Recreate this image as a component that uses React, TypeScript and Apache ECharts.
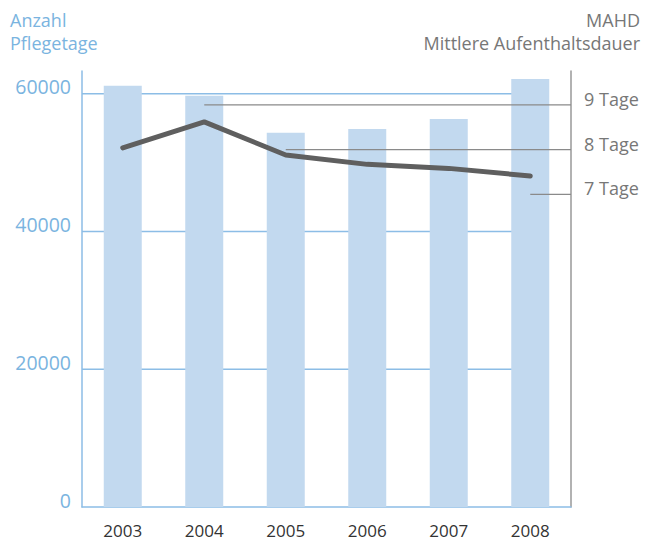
import React, { useEffect, useRef } from "react";
import * as echarts from "echarts";

const years = ["2003", "2004", "2005", "2006", "2007", "2008"];
const pflegetage = [61160, 59710, 54330, 54870, 56320, 62140];
const mahd = [8.04, 8.62, 7.88, 7.67, 7.58, 7.41];
const leftTicks = [20000, 40000, 60000];
const rightTickDays = [9, 8, 7];
const leaderFromYear = ["2004", "2005", "2008"];
const leftTitle = ["Anzahl", "Pflegetage"];
const rightTitle = ["MAHD", "Mittlere Aufenthaltsdauer"];

const BLUE_TEXT = "#7ab4e0";
const GRID_BLUE = "#8cbde6";
const BAR = "#c2d9ef";
const GRAY_TEXT = "#777777";

export default function App() {
  const ref = useRef<HTMLDivElement>(null);
  useEffect(() => {
    if (!ref.current) return;
    const chart = echarts.init(ref.current, undefined, { renderer: "svg" });
    const n = years.length;
    const gridSeries = leftTicks.map((v) => ({
      type: "line",
      xAxisIndex: 1,
      yAxisIndex: 0,
      data: [
        [0, v],
        [n - 0.5, v],
      ],
      symbol: "none",
      silent: true,
      z: 1,
      lineStyle: { color: GRID_BLUE, width: 1.5 },
    }));
    const leaderSeries = rightTickDays.map((d, i) => ({
      type: "line",
      xAxisIndex: 1,
      yAxisIndex: 1,
      data: [
        [years.indexOf(leaderFromYear[i]) + 0.5, d],
        [n, d],
      ],
      symbol: "none",
      silent: true,
      z: 3,
      lineStyle: { color: "#8a8a8a", width: 1.2 },
    }));
    const titleFont = { fontSize: 18, fontFamily: "Open Sans" };
    const graphic = [
      ...leftTitle.map((t, i) => ({
        type: "text",
        left: 10,
        top: 11 + i * 22.5,
        style: { text: t, fill: BLUE_TEXT, ...titleFont },
      })),
      ...rightTitle.map((t, i) => ({
        type: "text",
        right: 5,
        top: 11 + i * 22.5,
        style: { text: t, fill: GRAY_TEXT, ...titleFont },
      })),
    ];
    chart.setOption({
      animation: false,
      textStyle: { fontFamily: "Open Sans" },
      graphic,
      grid: { left: 82, right: 74, top: 71, bottom: 34, containLabel: false },
      xAxis: [
        {
          type: "category",
          data: years,
          boundaryGap: true,
          axisLine: { show: true, lineStyle: { color: GRID_BLUE, width: 1.5 } },
          axisTick: { show: false },
          axisLabel: {
            color: "#333333",
            fontSize: 17,
            lineHeight: 17,
            margin: 15,
            fontFamily: "Open Sans",
          },
          splitLine: { show: false },
        },
        {
          type: "value",
          min: 0,
          max: n,
          show: false,
          splitLine: { show: false },
        },
      ],
      yAxis: [
        {
          type: "value",
          min: 0,
          max: 63300,
          interval: 20000,
          position: "left",
          axisLine: { show: true, lineStyle: { color: GRID_BLUE, width: 1.5 } },
          axisTick: { show: false },
          splitLine: { show: false },
          axisLabel: {
            color: BLUE_TEXT,
            fontSize: 19.5,
            fontFamily: "Open Sans",
            margin: 11,
            verticalAlign: "bottom",
            lineHeight: 14,
            formatter: (v: number) => (v % 20000 === 0 ? String(v) : ""),
          },
        },
        {
          type: "value",
          min: 0,
          max: 9.76,
          interval: 1,
          position: "right",
          axisLine: { show: true, lineStyle: { color: "#999999", width: 1.5 } },
          axisTick: { show: false },
          splitLine: { show: false },
          axisLabel: {
            color: GRAY_TEXT,
            fontSize: 18,
            fontFamily: "Open Sans",
            margin: 13,
            verticalAlign: "bottom",
            lineHeight: 12,
            formatter: (v: number) =>
              rightTickDays.indexOf(v) >= 0 ? `${v} Tage` : "",
          },
        },
      ],
      series: [
        ...gridSeries,
        {
          type: "bar",
          name: "Anzahl Pflegetage",
          data: pflegetage,
          barWidth: 38,
          z: 2,
          itemStyle: { color: BAR },
        },
        ...leaderSeries,
        {
          type: "line",
          name: "MAHD",
          yAxisIndex: 1,
          data: mahd,
          symbol: "none",
          z: 4,
          lineStyle: { color: "#5f5f5f", width: 5, cap: "round", join: "round" },
        },
      ],
    });
    return () => chart.dispose();
  }, []);
  return (
    <div
      ref={ref}
      style={{ position: "fixed", left: 0, top: 0, width: 645, height: 541, background: "#fff" }}
    />
  );
}
